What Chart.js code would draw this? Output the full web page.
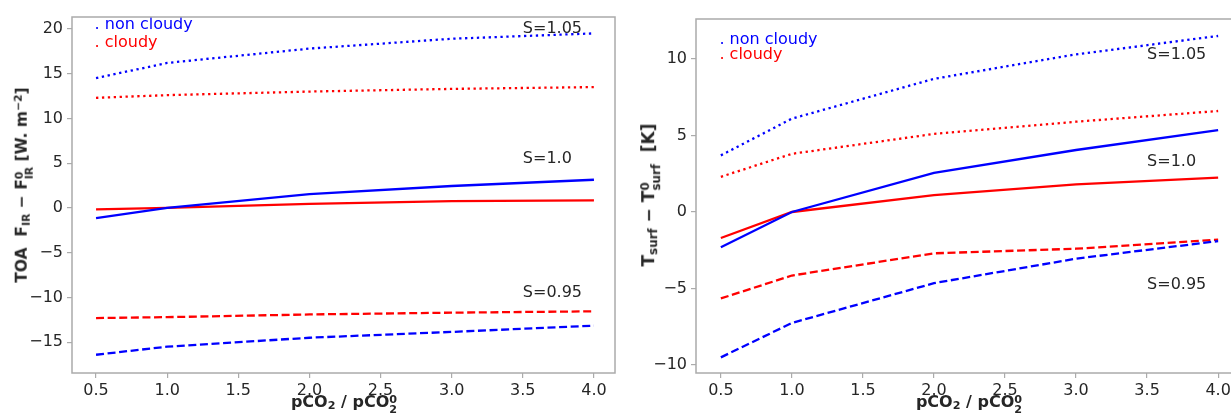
<!DOCTYPE html>
<html>
<head>
<meta charset="utf-8">
<script src="https://cdn.jsdelivr.net/npm/chart.js@4.4.1/dist/chart.umd.min.js"></script>
<style>
  html, body { margin: 0; padding: 0; background: #fff; overflow: hidden; width: 1231px; height: 416px; }
  canvas { position: absolute; top: 0; }
  .title { position: absolute; font-family: "DejaVu Sans"; font-weight: bold; font-size: 15.5px; color: #262626; white-space: nowrap; line-height: 1; }
  .ytitle { transform: translate(-50%, -50%) rotate(-90deg); }
  .xtitle { transform: translate(-50%, -50%); font-size: 16px; }
  .st { display: inline-flex; flex-direction: column; font-size: 0.7em; line-height: 0.9; vertical-align: 0.4em; }
  .sb { font-size: 0.7em; vertical-align: -0.25em; }
  .sp { font-size: 0.7em; vertical-align: 0.5em; }
</style>
</head>
<body>
<canvas id="toa" width="620" height="416" style="left:0px;width:620px;height:416px"></canvas>
<canvas id="tsurf" width="630" height="416" style="left:625px;width:630px;height:416px"></canvas>

<div class="title ytitle" style="left:24px;top:185px">TOA&nbsp; F<span class="sb">IR</span> − F<span class="st"><span>0</span><span>IR</span></span> [W. m<span class="sp">−2</span>]</div>
<div class="title xtitle" style="left:344px;top:404px">pCO<span class="sb">2</span> / pCO<span class="st"><span>0</span><span>2</span></span></div>
<div class="title ytitle" style="left:651px;top:195px;font-size:17px">T<span class="sb">surf</span> − T<span class="st"><span>0</span><span>surf</span></span>&nbsp; [K]</div>
<div class="title xtitle" style="left:969px;top:404px">pCO<span class="sb">2</span> / pCO<span class="st"><span>0</span><span>2</span></span></div>

<script>
// x values and ticks, shared by both panels
var pco2Ratio = [0.5, 1, 2, 3, 4];
var xTickValues = [0.5, 1.0, 1.5, 2.0, 2.5, 3.0, 3.5, 4.0];

// left panel: TOA IR flux change
var toaNonCloudy105 = [14.5, 16.2, 17.8, 18.9, 19.5];
var toaCloudy105 = [12.3, 12.6, 13.0, 13.3, 13.5];
var toaNonCloudy100 = [-1.15, 0, 1.55, 2.45, 3.15];
var toaCloudy100 = [-0.15, 0, 0.45, 0.75, 0.85];
var toaNonCloudy095 = [-16.4, -15.5, -14.5, -13.85, -13.15];
var toaCloudy095 = [-12.3, -12.2, -11.9, -11.7, -11.55];
var toaYTicks = [-15, -10, -5, 0, 5, 10, 15, 20];

// right panel: surface temperature change
var tsNonCloudy105 = [3.7, 6.1, 8.7, 10.3, 11.5];
var tsCloudy105 = [2.3, 3.8, 5.1, 5.9, 6.6];
var tsNonCloudy100 = [-2.3, 0, 2.55, 4.05, 5.35];
var tsCloudy100 = [-1.7, 0, 1.1, 1.8, 2.25];
var tsNonCloudy095 = [-9.5, -7.25, -4.65, -3.05, -1.9];
var tsCloudy095 = [-5.65, -4.15, -2.7, -2.4, -1.8];
var tsYTicks = [-10, -5, 0, 5, 10];

var solarLabels = ['S=1.05', 'S=1.0', 'S=0.95'];
var seriesLabels = ['non cloudy', 'cloudy'];

var BLUE = '#0000ff', RED = '#ff0000', TEXT = '#262626', SPINE = '#ababab';
var DOTTED = [2.3, 3.6], DASHED = [8, 3.6];
var FONT = { family: 'DejaVu Sans', size: 16 };

function pts(vals) {
  return pco2Ratio.map(function (x, i) { return { x: x, y: vals[i] }; });
}

function line(label, vals, color, dash) {
  return {
    label: label, data: pts(vals), borderColor: color, borderWidth: 2.3,
    borderDash: dash, borderCapStyle: 'butt', pointRadius: 0, fill: false, tension: 0
  };
}

function minus(v) {
  return v < 0 ? '\u2212' + Math.abs(v) : String(v);
}

// frame round the plot area
var framePlugin = {
  id: 'frame',
  afterDraw: function (chart) {
    var a = chart.chartArea, ctx = chart.ctx;
    ctx.save();
    ctx.strokeStyle = SPINE;
    ctx.lineWidth = 1.5;
    ctx.strokeRect(a.left, a.top, a.right - a.left, a.bottom - a.top);
    ctx.restore();
  }
};

// in-plot texts (legend and S labels) placed in data coordinates
function textPlugin(texts) {
  return {
    id: 'panelText',
    afterDatasetsDraw: function (chart) {
      var ctx = chart.ctx, xs = chart.scales.x, ys = chart.scales.y;
      ctx.save();
      ctx.font = '16px "DejaVu Sans"';
      ctx.textBaseline = 'alphabetic';
      ctx.textAlign = 'left';
      texts.forEach(function (t) {
        ctx.fillStyle = t.color;
        ctx.fillText(t.text, xs.getPixelForValue(t.x), ys.getPixelForValue(t.y));
      });
      ctx.restore();
    }
  };
}

function makeChart(id, datasets, o) {
  return new Chart(document.getElementById(id), {
    type: 'line',
    data: { datasets: datasets },
    options: {
      responsive: false,
      animation: false,
      layout: { padding: { left: 0, top: o.top, right: o.padRight, bottom: 0 } },
      plugins: { legend: { display: false }, tooltip: { enabled: false } },
      scales: {
        x: {
          type: 'linear', min: o.xMin, max: o.xMax,
          afterFit: function (s) { s.height = o.xHeight; },
          afterBuildTicks: function (s) { s.ticks = xTickValues.map(function (v) { return { value: v }; }); },
          ticks: { callback: function (v) { return v.toFixed(1); }, font: FONT, color: TEXT, padding: 3, maxRotation: 0, autoSkip: false },
          grid: { drawOnChartArea: false, color: SPINE, tickLength: 5, lineWidth: 1.2 },
          border: { display: false }
        },
        y: {
          min: o.yMin, max: o.yMax,
          afterFit: function (s) { s.width = o.yWidth; },
          afterBuildTicks: function (s) { s.ticks = o.yTicks.map(function (v) { return { value: v }; }); },
          ticks: { callback: minus, font: FONT, color: TEXT, padding: 4 },
          grid: { drawOnChartArea: false, color: SPINE, tickLength: 5, lineWidth: 1.2 },
          border: { display: false }
        }
      }
    },
    plugins: [framePlugin, textPlugin(o.texts)]
  });
}

makeChart('toa', [
  line('non cloudy S=1.05', toaNonCloudy105, BLUE, DOTTED),
  line('cloudy S=1.05', toaCloudy105, RED, DOTTED),
  line('non cloudy S=1.0', toaNonCloudy100, BLUE, []),
  line('cloudy S=1.0', toaCloudy100, RED, []),
  line('non cloudy S=0.95', toaNonCloudy095, BLUE, DASHED),
  line('cloudy S=0.95', toaCloudy095, RED, DASHED)
], {
  top: 17, padRight: 5, xHeight: 43, yWidth: 72,
  xMin: 0.331, xMax: 4.148, yMin: -18.44, yMax: 21.33, yTicks: toaYTicks,
  texts: [
    { text: '. ' + seriesLabels[0], x: 0.49, y: 20, color: BLUE },
    { text: '. ' + seriesLabels[1], x: 0.49, y: 18, color: RED },
    { text: solarLabels[0], x: 3.5, y: 19.5, color: TEXT },
    { text: solarLabels[1], x: 3.5, y: 5, color: TEXT },
    { text: solarLabels[2], x: 3.5, y: -10, color: TEXT }
  ]
});

makeChart('tsurf', [
  line('non cloudy S=1.05', tsNonCloudy105, BLUE, DOTTED),
  line('cloudy S=1.05', tsCloudy105, RED, DOTTED),
  line('non cloudy S=1.0', tsNonCloudy100, BLUE, []),
  line('cloudy S=1.0', tsCloudy100, RED, []),
  line('non cloudy S=0.95', tsNonCloudy095, BLUE, DASHED),
  line('cloudy S=0.95', tsCloudy095, RED, DASHED)
], {
  top: 19, padRight: 12, xHeight: 43, yWidth: 71,
  xMin: 0.325, xMax: 4.175, yMin: -10.52, yMax: 12.61, yTicks: tsYTicks,
  texts: [
    { text: '. ' + seriesLabels[0], x: 0.49, y: 11, color: BLUE },
    { text: '. ' + seriesLabels[1], x: 0.49, y: 10, color: RED },
    { text: solarLabels[0], x: 3.5, y: 10, color: TEXT },
    { text: solarLabels[1], x: 3.5, y: 3, color: TEXT },
    { text: solarLabels[2], x: 3.5, y: -5, color: TEXT }
  ]
});
</script>
</body>
</html>
